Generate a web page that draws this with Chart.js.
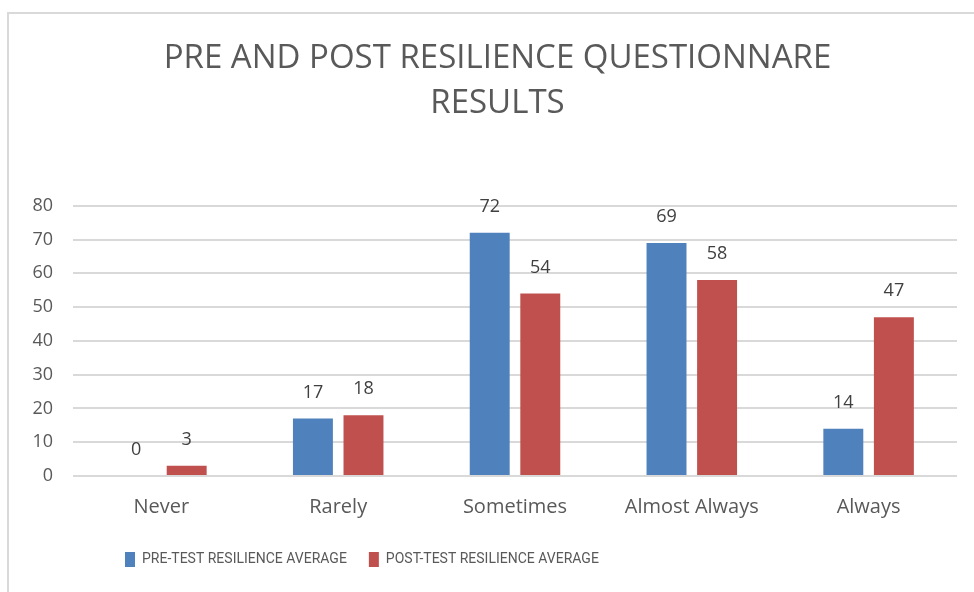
<!DOCTYPE html>
<html>
<head>
<meta charset="utf-8">
<script src="https://cdn.jsdelivr.net/npm/chart.js@4.4.0/dist/chart.umd.min.js"></script>
<style>
  html, body { margin: 0; background: #fff; overflow: hidden; }
  #frame { position: absolute; left: 7px; top: 12px; width: 990px; height: 600px; border: 2px solid #d9d9d9; }
  #wrap { position: absolute; left: 0; top: 0; width: 974px; height: 592px; }
</style>
</head>
<body>
<div id="frame"></div>
<div id="wrap"><canvas id="resilienceChart" width="974" height="592"></canvas></div>
<script>
let categories = ['Never', 'Rarely', 'Sometimes', 'Almost Always', 'Always'];
let preTest = [0, 17, 72, 69, 14];
let postTest = [3, 18, 54, 58, 47];
let yTicks = [0, 10, 20, 30, 40, 50, 60, 70, 80];

// draws the value above each bar, like excel data labels
let valueLabels = {
    id: 'valueLabels',
    afterDatasetsDraw(chart) {
        let c = chart.ctx;
        c.save();
        c.fillStyle = '#404040';
        c.font = '18px "Open Sans"';
        c.textAlign = 'center';
        c.textBaseline = 'middle';
        chart.data.datasets.forEach((ds, i) => {
            chart.getDatasetMeta(i).data.forEach((bar, j) => {
                c.fillText(ds.data[j], bar.x, bar.y - 26);
            });
        });
        c.restore();
    }
};

// the original chart was a bit wider than the crop: nudge title right, legend sits left
let boxShift = {
    id: 'boxShift',
    afterLayout(chart) {
        chart.titleBlock.left += 9;
        chart.titleBlock.right += 9;
        chart.legend.left = 103;
    }
};

let ctx = document.getElementById('resilienceChart').getContext('2d');
let resilienceChart = new Chart(ctx, {
    type: 'bar',
    data: {
        labels: categories,
        datasets: [{
            label: 'PRE-TEST RESILIENCE AVERAGE',
            data: preTest,
            backgroundColor: '#4f81bd',
            borderWidth: 0
        }, {
            label: 'POST-TEST RESILIENCE AVERAGE',
            data: postTest,
            backgroundColor: '#c0504d',
            borderWidth: 0
        }]
    },
    options: {
        responsive: false,
        animation: false,
        categoryPercentage: 0.572,
        barPercentage: 0.79,
        layout: {
            padding: { left: 20, right: 17, top: 36, bottom: 15 }
        },
        plugins: {
            title: {
                display: true,
                text: ['PRE AND POST RESILIENCE QUESTIONNARE', 'RESULTS'],
                color: '#595959',
                font: { family: 'Open Sans', size: 33, weight: 'normal', lineHeight: 1.36 },
                padding: { top: 0, bottom: 80 }
            },
            legend: {
                position: 'bottom',
                align: 'start',
                labels: {
                    color: '#595959',
                    font: { family: 'Roboto', size: 14 },
                    boxWidth: 10,
                    boxHeight: 15,
                    padding: 22
                }
            },
            tooltip: { enabled: false }
        },
        scales: {
            y: {
                min: 0,
                max: 80,
                afterBuildTicks: (scale) => {
                    scale.ticks = yTicks.map(v => ({ value: v }));
                },
                afterFit: (scale) => {
                    scale.width = 53;
                },
                border: { display: false },
                grid: { color: '#d9d9d9', lineWidth: 2, drawTicks: false },
                ticks: {
                    color: '#595959',
                    font: { family: 'Open Sans', size: 18 },
                    padding: 20
                }
            },
            x: {
                border: { display: false },
                grid: { display: false },
                ticks: {
                    color: '#595959',
                    font: { family: 'Open Sans', size: 20 },
                    padding: 11
                }
            }
        }
    },
    plugins: [valueLabels, boxShift]
});
</script>
</body>
</html>
